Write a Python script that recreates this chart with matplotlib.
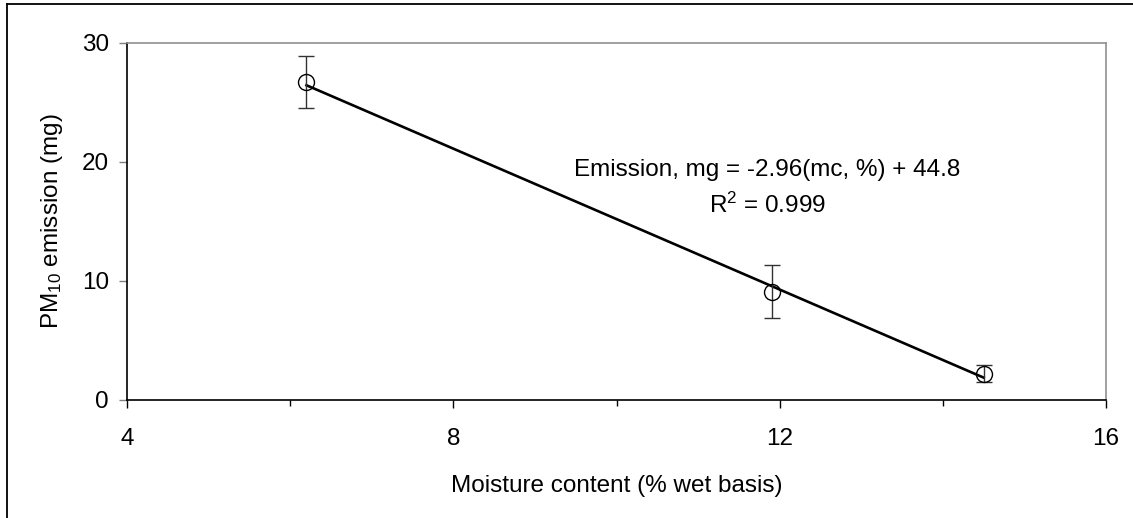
import numpy as np
import matplotlib.pyplot as plt
from matplotlib.lines import Line2D

# moisture content (% wet basis) and PM10 emission (mg)
moisture = [6.2, 11.9, 14.5]
emission = [26.7, 9.1, 2.2]
emission_err = [2.2, 2.25, 0.7]

# linear fit reported on the chart
slope = -2.96
intercept = 44.8
r2 = 0.999

x_ticks = [4, 8, 12, 16]
x_minor = [6, 10, 14]
y_ticks = [0, 10, 20, 30]

plt.rcParams["font.family"] = ["Liberation Sans", "DejaVu Sans"]
plt.rcParams["mathtext.fontset"] = "custom"
plt.rcParams["mathtext.rm"] = "Liberation Sans"
plt.rcParams["mathtext.it"] = "Liberation Sans"

FS = 17.5


def main():
    fig = plt.figure(figsize=(11.33, 5.18), dpi=100)
    ax = fig.add_axes([0.1121, 0.2278, 0.8641, 0.6892])

    # trend line across the measured range
    xs = np.array([min(moisture), max(moisture)])
    ax.plot(xs, slope * xs + intercept, color="black", lw=1.9, zorder=2)

    ax.errorbar(moisture, emission, yerr=emission_err, fmt="o", ms=11.5,
                mfc="none", mec="black", mew=1.0, ecolor="#333333",
                elinewidth=1.0, capsize=6, capthick=1.0, zorder=3)

    ax.set_xlim(4, 16)
    ax.set_ylim(0, 30)
    ax.set_xticks(x_ticks)
    ax.set_xticks(x_minor, minor=True)
    ax.set_yticks(y_ticks)

    ax.tick_params(axis="both", which="major", direction="out", length=6,
                   width=1.0, labelsize=FS, pad=6)
    ax.tick_params(axis="x", which="major", pad=14, color="black")
    ax.tick_params(axis="y", which="major", color="#808080", pad=7)
    ax.tick_params(axis="x", which="minor", direction="out", length=4,
                   width=1.0, color="black")

    for side in ["top", "right"]:
        ax.spines[side].set_color("#909090")
        ax.spines[side].set_linewidth(1.2)
    for side in ["left", "bottom"]:
        ax.spines[side].set_color("black")
        ax.spines[side].set_linewidth(1.2)

    ax.set_xlabel("Moisture content (% wet basis)", fontsize=FS, labelpad=18)
    ax.set_ylabel("PM$_{10}$ emission (mg)", fontsize=FS, labelpad=12)

    ax.text(11.85, 19.3, f"Emission, mg = {slope:.2f}(mc, %) + {intercept:.1f}",
            fontsize=FS, ha="center", va="center")
    ax.text(11.85, 16.4, f"R$^2$ = {r2:.3f}", fontsize=FS, ha="center",
            va="center")

    # chart frame, only the top and left edges show
    fig.add_artist(Line2D([0.0062, 0.0062], [0, 0.992], transform=fig.transFigure,
                          color="black", lw=1.3))
    fig.add_artist(Line2D([0.0062, 1.0], [0.992, 0.992], transform=fig.transFigure,
                          color="black", lw=1.3))

    fig.savefig("out.png", dpi=100)


if __name__ == "__main__":
    main()
